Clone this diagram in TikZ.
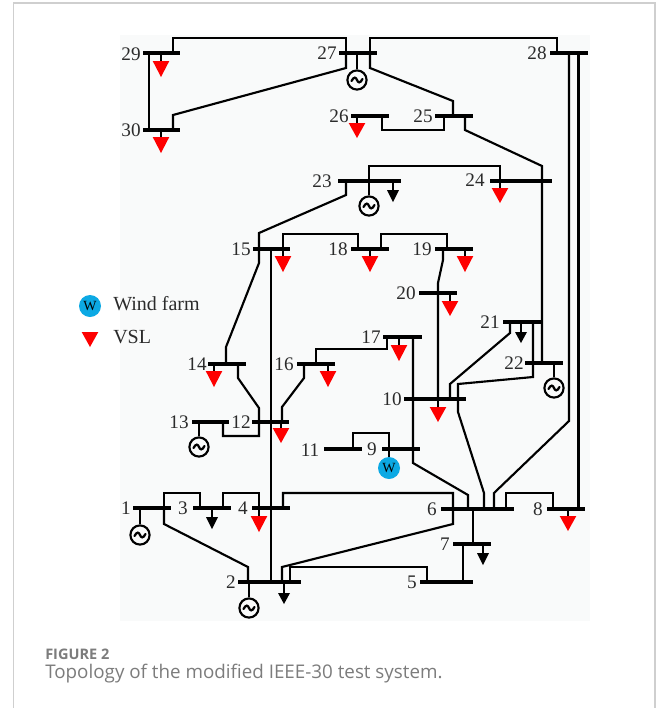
\documentclass[tikz,border=0pt]{standalone}
\usepackage{fontspec}
\setmainfont{Liberation Serif}
\newfontfamily\capfont{Open Sans}
\usetikzlibrary{calc}
\definecolor{vslred}{HTML}{FE0000}
\definecolor{windblue}{HTML}{0CA9E4}
\definecolor{plate}{HTML}{F9FAFA}
\definecolor{cardline}{HTML}{CFCFCF}
\definecolor{capgrey}{HTML}{7C7C7C}
\definecolor{labelgrey}{HTML}{2B2B2B}
\tikzset{
  x=0.75pt,y=-0.75pt,
  busbar/.style={draw=none,fill=black,rectangle,inner sep=0pt,minimum height=2.8pt},
  line/.style={draw=black,line width=1.6pt,line join=miter},
  stem/.style={draw=black,line width=1.6pt},
  buslabel/.style={font=\fontsize{14.4}{15}\selectfont,text=labelgrey,inner sep=0pt},
  legendtext/.style={font=\fontsize{15}{16}\selectfont,text=labelgrey,inner sep=0pt,anchor=west},
  gencircle/.style={circle,draw=black,line width=1.6pt,fill=plate,inner sep=0pt,minimum size=14.4pt},
  windcircle/.style={circle,fill=windblue,inner sep=0pt,minimum size=16.5pt,font=\fontsize{10.5}{11}\selectfont},
  caphead/.style={font=\capfont\bfseries\fontsize{10.9}{12}\selectfont,text=capgrey,inner sep=0pt,anchor=west},
  captext/.style={font=\capfont\fontsize{14.1}{16}\selectfont,text=capgrey,inner sep=0pt,anchor=west},
}
% \busbar{name}{x1}{x2}{y}
\newcommand{\busbar}[4]{\node[busbar,minimum width={(#3-#2)*0.75pt}] (#1) at ({(#2+#3)/2},#4) {};}
% \buslab{name}{x}{y}{text}
\newcommand{\buslab}[4]{\node[buslabel] (#1) at (#2,#3) {#4};}
\newcommand{\tri}[5]{\fill[#1] (#2-#5,#3) -- (#2+#5,#3) -- (#2,#4) -- cycle;}
\newcommand{\vsl}[5]{\coordinate (#1) at (#2,#3);\draw[stem] (#1) -- (#1 |- #5);\tri{vslred}{#2}{#3}{#4}{8.3}}
\newcommand{\blackload}[5]{\coordinate (#1) at (#2,#3);\draw[stem] (#1) -- (#1 |- #5);\tri{black}{#2}{#3}{#4}{6}}
% generator: \gen{name}{x}{y}{bus}
\newcommand{\gen}[4]{\node[gencircle] (#1) at (#2,#3) {};\draw[stem] (#1.north) -- (#1.north |- #4);
  \draw[line width=1.7pt,line cap=round] (#2-5.5,#3+1) .. controls (#2-3,#3-4) and (#2-1,#3-2.5) .. (#2,#3) .. controls (#2+1,#3+2.5) and (#2+3,#3+4) .. (#2+5.5,#3-1);}
\begin{document}
\begin{tikzpicture}
\useasboundingbox (0,0) rectangle (656,708);
\fill[white] (0,0) rectangle (656,708);
\draw[cardline,line width=0.9pt] (13.5,730) -- (13.5,3) -- (655,3) -- (655,730);
\fill[plate] (120,35) rectangle (590,621);

% buses
\busbar{b29}{143}{180}{53}
\busbar{b30}{143}{180}{130}
\busbar{b27}{339}{377}{53}
\busbar{b28}{550}{588}{53}
\busbar{b26}{351}{389}{116}
\busbar{b25}{435}{473}{116}
\busbar{b23}{338}{401}{181}
\busbar{b24}{490}{552}{181}
\busbar{b15}{253}{290}{249}
\busbar{b18}{351}{389}{249}
\busbar{b19}{435}{473}{249}
\busbar{b20}{419}{457}{293}
\busbar{b21}{503}{541}{322}
\busbar{b22}{525}{563}{363}
\busbar{b17}{383}{422}{337}
\busbar{b10}{404}{466}{399}
\busbar{b14}{208}{246}{364}
\busbar{b16}{297}{335}{364}
\busbar{b13}{192}{229}{422}
\busbar{b12}{252}{289}{422}
\busbar{b11}{324}{362}{449}
\busbar{b9}{382}{420}{449}
\busbar{b1}{133}{171}{508}
\busbar{b3}{193}{231}{508}
\busbar{b4}{252}{290}{508}
\busbar{b2}{238}{301}{582}
\busbar{b6}{441}{514}{509}
\busbar{b8}{547}{585}{509}
\busbar{b7}{453}{491}{544}
\busbar{b5}{420}{473}{582}

% connectors
\draw[line] (b29.center -| 173,0) -- (173,38) -- (346,38) -- (b27.center -| 346,0);
\draw[line] (b30.center -| 173,0) -- (173,115) -- (346,68) -- (b27.center -| 346,0);
\draw[line] (b29.center -| 149,0) -- (b30.center -| 149,0);
\draw[line] (b27.center -| 370,0) -- (370,38) -- (557,38) -- (b28.center -| 557,0);
\draw[line] (b27.center -| 370,0) -- (370,68) -- (453,101) -- (b25.center -| 453,0);
\draw[line] (b25.center -| 444,0) -- (444,130) -- (382,130) -- (b26.center -| 382,0);
\draw[line] (b25.center -| 465,0) -- (465,130) -- (542,166) -- (b22.center -| 542,0);
\draw[line] (b28.center -| 578.5,0) -- (b8.center -| 578.5,0);
\draw[line] (b28.center -| 569,0) -- (569,421) -- (494,493) -- (b6.center -| 494,0);
\draw[line] (b23.center -| 369,0) -- (369,166) -- (500,166) -- (b24.center -| 500,0);
\draw[line] (b23.center -| 346,0) -- (346,195) -- (259,233) -- (b15.center -| 259,0);
\draw[line] (b15.center -| 283,0) -- (283,234) -- (358,234) -- (b18.center -| 358,0);
\draw[line] (b18.center -| 381,0) -- (381,234) -- (447,234) -- (b19.center -| 447,0);
\draw[line] (b19.center -| 443,0) -- (443,260) -- (438,283) -- (b10.center -| 438,0);
\draw[line] (b17.center -| 413,0) -- (413,463) -- (468,495) -- (b6.center -| 468,0);
\draw[line] (b16.center -| 316,0) -- (316,349) -- (387,349) -- (b17.center -| 387,0);
\draw[line] (b14.center -| 226,0) -- (226,347) -- (259,263) -- (b15.center -| 259,0);
\draw[line] (b14.center -| 238,0) -- (238,378) -- (259,408) -- (259,436) -- (223,436) -- (b13.center -| 223,0);
\draw[line] (b16.center -| 304,0) -- (304,378) -- (282,407) -- (b12.center -| 282,0);
\draw[line] (b15.center -| 271,0) -- (b2.center -| 271,0);
\draw[line] (b11.center -| 353,0) -- (353,433) -- (389,433) -- (b9.center -| 389,0);
\draw[line] (b1.center -| 164,0) -- (164,493) -- (200,493) -- (b3.center -| 200,0);
\draw[line] (b1.center -| 164,0) -- (164,524) -- (248,567) -- (b2.center -| 248,0);
\draw[line] (b3.center -| 223,0) -- (223,493) -- (259,493) -- (b4.center -| 259,0);
\draw[line] (b4.center -| 283,0) -- (283,493) -- (453,493) -- (453,524) -- (282,567) -- (b2.center -| 282,0);
\draw[line] (b2.center -| 290,0) -- (290,567) -- (427,567) -- (b5.center -| 427,0);
\draw[line] (b5.center -| 463,0) -- (b7.center -| 463,0);
\draw[line] (b7.center -| 473,0) -- (b6.center -| 473,0);
\draw[line] (b6.center -| 506,0) -- (506,493) -- (553,493) -- (b8.center -| 553,0);
\draw[line] (b10.center -| 458,0) -- (458,412) -- (484,493) -- (b6.center -| 484,0);
\draw[line] (b10.center -| 450,0) -- (450,384) -- (510,333) -- (b21.center -| 510,0);
\draw[line] (b10.center -| 458,0) -- (458,384) -- (533,377) -- (b21.center -| 533,0);

% variable loads
\vsl{v29}{161}{61}{77}{b29}
\vsl{v30}{161}{137}{153}{b30}
\vsl{v26}{357}{123}{138}{b26}
\vsl{v24}{500}{188}{203}{b24}
\vsl{v15}{283}{256}{272}{b15}
\vsl{v18}{370}{256}{272}{b18}
\vsl{v19}{465}{256}{272}{b19}
\vsl{v20}{450}{301}{316}{b20}
\vsl{v17}{399}{345}{361}{b17}
\vsl{v10}{438}{407}{422}{b10}
\vsl{v14}{214}{371}{387}{b14}
\vsl{v16}{328}{371}{387}{b16}
\vsl{v12}{281}{428}{443}{b12}
\vsl{v4}{259}{516}{532}{b4}
\vsl{v8}{568}{516}{531}{b8}

% fixed loads
\blackload{l23}{393}{190}{202}{b23}
\blackload{l3}{212}{517}{529}{b3}
\blackload{l2}{284}{593}{604}{b2}
\blackload{l7}{483}{553}{565}{b7}
\blackload{l21}{521}{332}{343}{b21}

% generators
\gen{g27}{357}{80}{b27}
\gen{g23}{369}{206}{b23}
\gen{g22}{554}{388}{b22}
\gen{g13}{199}{447}{b13}
\gen{g1}{140}{535}{b1}
\gen{g2}{249}{608}{b2}

% wind farm at bus 9
\node[windcircle] (w9) at (389,468) {W};
\draw[stem] (w9.north) -- (w9.north |- b9);

% labels
\buslab{t29}{131}{54}{29}
\buslab{t30}{131}{130}{30}
\buslab{t27}{327}{53}{27}
\buslab{t28}{537}{53}{28}
\buslab{t26}{339}{116}{26}
\buslab{t25}{423}{116}{25}
\buslab{t23}{322}{181}{23}
\buslab{t24}{475}{180}{24}
\buslab{t15}{241}{249}{15}
\buslab{t18}{338}{249}{18}
\buslab{t19}{422}{249}{19}
\buslab{t20}{406}{293}{20}
\buslab{t21}{490}{322}{21}
\buslab{t22}{514}{363}{22}
\buslab{t17}{371}{337}{17}
\buslab{t10}{392}{399}{10}
\buslab{t14}{197}{364}{14}
\buslab{t16}{284}{364}{16}
\buslab{t13}{179}{422}{13}
\buslab{t12}{241}{422}{12}
\buslab{t11}{310}{450}{11}
\buslab{t9}{372}{449}{9}
\buslab{t1}{126}{508}{1}
\buslab{t3}{183}{508}{3}
\buslab{t4}{243}{508}{4}
\buslab{t2}{231}{582}{2}
\buslab{t6}{432}{509}{6}
\buslab{t8}{538}{509}{8}
\buslab{t7}{445}{544}{7}
\buslab{t5}{412}{582}{5}

% legend
\node[windcircle] (legw) at (90,306) {W};
\node[legendtext] (legwt) at (113,304) {Wind farm};
\tri{vslred}{90}{332}{347}{8.3}
\node[legendtext] (legv) at (113,337) {VSL};

% caption
\node[caphead] (cap1) at (45,654.5) {FIGURE 2};
\node[captext] (cap2) at (45,673.5) {Topology of the modified IEEE-30 test system.};
\end{tikzpicture}
\end{document}
